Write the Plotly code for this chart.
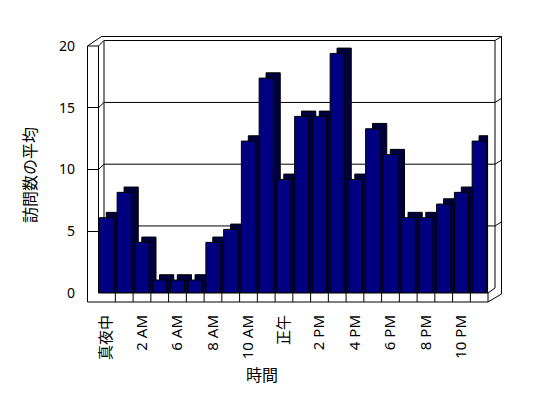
import plotly.graph_objects as go

# ---- data ----
hour_labels = ["真夜中", "1 AM", "2 AM", "5 AM", "6 AM", "7 AM", "8 AM", "9 AM",
               "10 AM", "11 AM", "正午", "1 PM", "2 PM", "3 PM", "4 PM", "5 PM",
               "6 PM", "7 PM", "8 PM", "9 PM", "10 PM", "11 PM"]
avg_visits = [6.1, 8.15, 4.1, 1.05, 1.05, 1.05, 4.1, 5.15, 12.3, 17.4, 9.2, 14.3,
              14.3, 19.4, 9.2, 13.3, 11.2, 6.1, 6.1, 7.2, 8.15, 12.3]
y_ticks = [0, 5, 10, 15, 20]
x_title = "時間"
y_title = "訪問数の平均"

# ---- layout geometry (page pixels; the page body has an 8px margin) ----
OFF = 8
W, H = 548 - OFF, 398 - OFF
L, R, T, B = 87, 503, 36, 302          # plot area in page pixels
PW, PH = R - L, B - T


def px(x):
    return (x - L) / PW


def py(y):
    return (B - y) / PH


FONT = "Noto Sans, Noto Sans CJK JP, sans-serif"
depth = 0.43          # back-wall lift in data units
bar_w = 0.8
side_shift = 0.39     # horizontal depth shift of the bar side, category units

fig = go.Figure()
fig.add_trace(go.Bar(
    x=hour_labels, y=[v + depth for v in avg_visits],
    width=bar_w, offset=-bar_w / 2 + side_shift,
    marker=dict(color="#00003c", line=dict(color="black", width=1)),
    hoverinfo="skip", showlegend=False))
fig.add_trace(go.Bar(
    x=hour_labels, y=avg_visits,
    width=bar_w, offset=-bar_w / 2,
    marker=dict(color="#000080", line=dict(color="black", width=1)),
    showlegend=False))

shapes = []


def seg(x0, y0, x1, y1, layer="above"):
    shapes.append(dict(type="line", xref="paper", yref="paper",
                       x0=px(x0), y0=py(y0), x1=px(x1), y1=py(y1),
                       line=dict(color="black", width=1), layer=layer))


FL, FLi, BL = 87.5, 98.5, 104
FR, BRi, BRo = 488, 495, 501.5
FT, FB = 293, 302
TF, TBi, TBo = 46, 40.5, 36.5

# back wall gridlines (behind the bars)
for v in y_ticks[1:-1]:
    shapes.append(dict(type="line", xref="paper", yref="y",
                       x0=px(BL), x1=px(BRi), y0=v + depth, y1=v + depth,
                       line=dict(color="black", width=1), layer="below"))
    shapes.append(dict(type="line", xref="paper", yref="y",
                       x0=px(FLi), x1=px(BL), y0=v, y1=v + depth,
                       line=dict(color="black", width=1), layer="below"))
    shapes.append(dict(type="line", xref="paper", yref="y",
                       x0=px(BRi), x1=px(BRo), y0=v + depth, y1=v + depth + 0.33,
                       line=dict(color="black", width=1), layer="below"))

seg(BL, TBi, BL, 288, layer="below")
seg(FL, TF, FL, FB)
seg(FLi, TF, FLi, FT)
seg(FL, TF, FLi, TF)
seg(FL, TF, 101.5, TBo)
seg(101.5, TBo, BRo, TBo)
seg(FLi, TF, BL, TBi)
seg(BL, TBi, BRi, TBi)
seg(BRi, TBi, BRi, 288)
seg(BRo, TBo, BRo, 294)
seg(BRi, TBi, BRo, TBo)
seg(FLi, FT, FR, FT)
seg(FL, FB, FR, FB)
seg(FR, FT, FR, FB)
seg(FR, FT, BRi, 288)
seg(FR, FB, BRo, 294)

# floor ticks at category boundaries
for k in range(len(hour_labels) - 1):
    shapes.append(dict(type="line", xref="x", yref="paper",
                       x0=k + 0.5, x1=k + 0.5, y0=py(FT), y1=py(FB),
                       line=dict(color="black", width=1), layer="above"))

fig.update_layout(
    width=W, height=H,
    margin=dict(l=L - OFF, r=548 - R, t=T - OFF, b=398 - B, autoexpand=False),
    paper_bgcolor="white", plot_bgcolor="white",
    barmode="overlay",
    font=dict(family=FONT, size=14, color="black"),
    xaxis=dict(type="category", domain=[px(97.6), px(488.1)],
               range=[-0.5, len(hour_labels) - 0.5],
               tickvals=hour_labels[::2], ticktext=hour_labels[::2],
               tickangle=-90, ticks="", showline=False, showgrid=False,
               zeroline=False, ticklabelstandoff=18, automargin=False,
               tickfont=dict(family=FONT, size=15)),
    yaxis=dict(domain=[py(293), py(46)], range=[0, 20], anchor="free",
               position=0, tickvals=y_ticks, ticks="inside", ticklen=11,
               tickcolor="black", showline=False, showgrid=False,
               zeroline=False, ticklabelstandoff=12, automargin=False,
               tickfont=dict(family=FONT, size=14)),
    shapes=shapes,
    annotations=[
        dict(text=y_title, textangle=-90, xref="paper", yref="paper",
             x=px(30), y=py(175), xanchor="center", yanchor="middle",
             showarrow=False, font=dict(family=FONT, size=16)),
        dict(text=x_title, xref="paper", yref="paper",
             x=px(262), y=py(375), xanchor="center", yanchor="middle",
             showarrow=False, font=dict(family=FONT, size=16)),
    ],
)

fig.write_html("out.html")
